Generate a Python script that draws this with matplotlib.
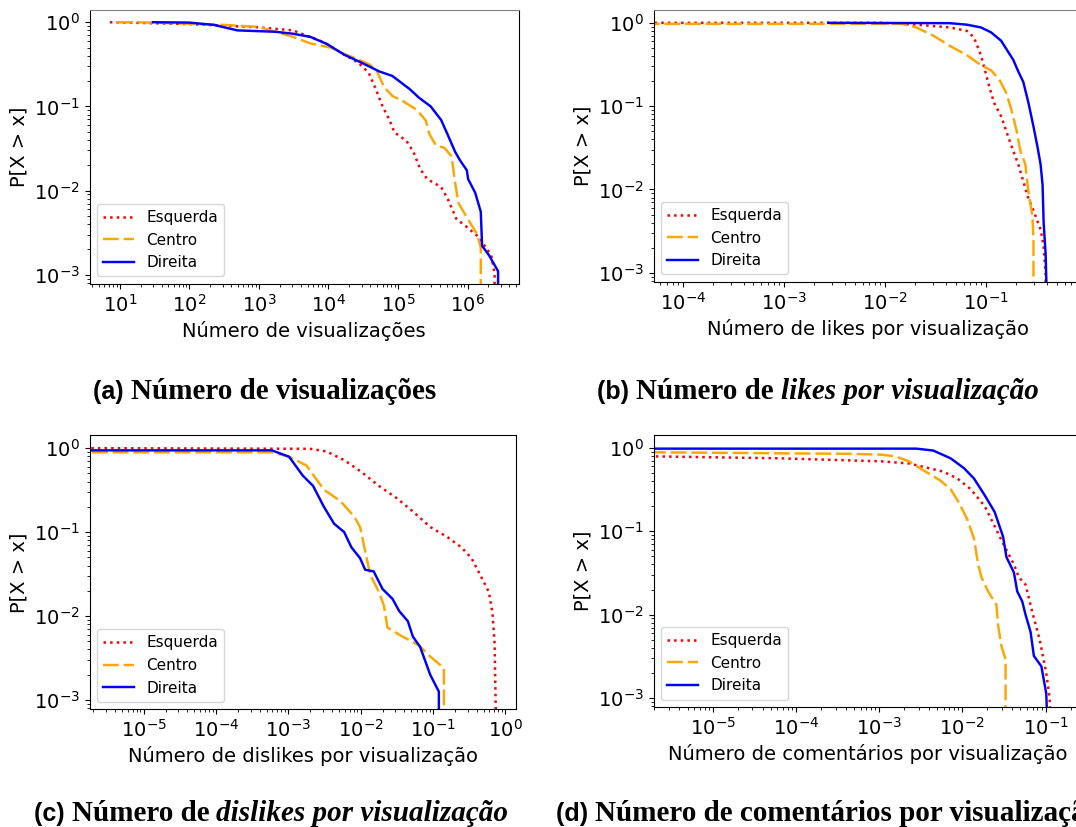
import matplotlib
matplotlib.use('Agg')
import matplotlib.pyplot as plt

# CCDF curves (x values, P[X > x])
series = ['Esquerda', 'Centro', 'Direita']

# (a) number of views
views_esq_x = [7.2, 100, 980, 3100, 8500, 17000, 27000, 38000, 48000, 60000, 76000, 89000,
               132000, 166000, 209000, 263000, 417000, 525000, 692000, 933000, 1450000,
               2190000, 2450000, 2450000]
views_esq_y = [1.0, 0.95, 0.87, 0.80, 0.58, 0.41, 0.33, 0.25, 0.16, 0.10, 0.068, 0.049,
               0.039, 0.029, 0.018, 0.0137, 0.011, 0.0078, 0.0046, 0.0038, 0.0028,
               0.0017, 0.00102, 0.0005]
views_cen_x = [9.1, 32, 316, 980, 3100, 5500, 10700, 17000, 27000, 40000, 50000, 63000,
               83000, 117000, 186000, 251000, 282000, 347000, 468000, 589000, 661000,
               741000, 977000, 1380000, 1550000, 1550000]
views_cen_y = [1.0, 0.99, 0.93, 0.88, 0.67, 0.56, 0.50, 0.42, 0.36, 0.31, 0.26, 0.17,
               0.133, 0.116, 0.091, 0.068, 0.047, 0.035, 0.032, 0.0255, 0.0125,
               0.0071, 0.0048, 0.0030, 0.0021, 0.0005]
views_dir_x = [30, 100, 224, 490, 1740, 3100, 5500, 9550, 17000, 30000, 54000, 83000,
               148000, 200000, 295000, 417000, 525000, 661000, 776000, 977000, 1020000,
               1290000, 1550000, 1620000, 2040000, 2750000, 2750000]
views_dir_y = [1.0, 0.99, 0.93, 0.80, 0.77, 0.73, 0.67, 0.55, 0.41, 0.33, 0.26, 0.23,
               0.16, 0.127, 0.10, 0.069, 0.045, 0.029, 0.023, 0.0174, 0.0137,
               0.0094, 0.0056, 0.0022, 0.0017, 0.0011, 0.0005]

# (b) likes per view
likes_esq_x = [1e-5, 0.0093, 0.0204, 0.0437, 0.0646, 0.0759, 0.0891, 0.0955, 0.107, 0.120,
               0.141, 0.166, 0.186, 0.209, 0.234, 0.263, 0.295, 0.347, 0.372, 0.389, 0.389]
likes_esq_y = [1.0, 1.0, 0.95, 0.88, 0.80, 0.67, 0.41, 0.30, 0.177, 0.11,
               0.076, 0.043, 0.029, 0.020, 0.0125, 0.0078, 0.0056, 0.0033, 0.0021, 0.00097, 0.0005]
likes_cen_x = [1e-5, 0.0148, 0.0204, 0.0302, 0.0437, 0.0646, 0.0891, 0.112, 0.135, 0.158,
               0.178, 0.20, 0.219, 0.245, 0.263, 0.288, 0.295, 0.295]
likes_cen_y = [0.97, 0.97, 0.88, 0.70, 0.53, 0.41, 0.31, 0.27, 0.21, 0.146,
               0.091, 0.052, 0.029, 0.020, 0.0094, 0.0048, 0.0025, 0.0005]
likes_dir_x = [0.00275, 0.0437, 0.0646, 0.0891, 0.112, 0.141, 0.186, 0.209, 0.234, 0.263,
               0.295, 0.324, 0.347, 0.363, 0.372, 0.389, 0.40]
likes_dir_y = [1.0, 0.99, 0.95, 0.88, 0.77, 0.61, 0.36, 0.26, 0.195, 0.11,
               0.057, 0.032, 0.020, 0.0114, 0.0040, 0.0017, 0.0005]

# (c) dislikes per view
dislikes_esq_x = [1e-6, 0.002, 0.00339, 0.00589, 0.0102, 0.0178, 0.0309, 0.0525, 0.0912,
                  0.158, 0.245, 0.339, 0.447, 0.589, 0.661, 0.708, 0.741]
dislikes_esq_y = [1.0, 0.98, 0.91, 0.72, 0.52, 0.355, 0.256, 0.176, 0.115,
                  0.087, 0.066, 0.049, 0.031, 0.0194, 0.011, 0.0047, 0.0005]
dislikes_cen_x = [1e-6, 0.000589, 0.00102, 0.00178, 0.00309, 0.00525, 0.00813, 0.00977,
                  0.0115, 0.0135, 0.0178, 0.0209, 0.0234, 0.0339, 0.0631, 0.0912, 0.141, 0.141]
dislikes_cen_y = [0.89, 0.89, 0.79, 0.62, 0.32, 0.233, 0.153, 0.115,
                  0.0595, 0.031, 0.0194, 0.0133, 0.0073, 0.006, 0.0045, 0.0033, 0.0024, 0.0005]
dislikes_dir_x = [1e-6, 0.000589, 0.00102, 0.00158, 0.00219, 0.00309, 0.00427, 0.00589,
                  0.00741, 0.00977, 0.0115, 0.0151, 0.02, 0.0275, 0.0339, 0.0447, 0.0525,
                  0.0661, 0.0912, 0.120, 0.120]
dislikes_dir_y = [0.94, 0.94, 0.79, 0.47, 0.355, 0.20, 0.126, 0.10,
                  0.066, 0.049, 0.0356, 0.034, 0.021, 0.016, 0.0115, 0.0087, 0.0057,
                  0.0043, 0.0020, 0.00126, 0.0005]

# (d) comments per view
comments_esq_x = [1e-6, 6.3e-5, 0.00107, 0.00229, 0.00282, 0.00589, 0.00871, 0.0126, 0.0186,
                  0.0257, 0.0324, 0.0417, 0.0479, 0.0575, 0.0692, 0.0851, 0.102, 0.112, 0.1135]
comments_esq_y = [0.80, 0.75, 0.69, 0.65, 0.62, 0.52, 0.43, 0.32, 0.20,
                  0.104, 0.065, 0.040, 0.028, 0.023, 0.0108, 0.005, 0.002, 0.001, 0.0005]
comments_cen_x = [1e-6, 0.000417, 0.00107, 0.00158, 0.00229, 0.00339, 0.00537, 0.00724,
                  0.00912, 0.0115, 0.0138, 0.0155, 0.0170, 0.0204, 0.0257, 0.0269, 0.0295,
                  0.0331, 0.0331]
comments_cen_y = [0.89, 0.85, 0.83, 0.79, 0.69, 0.54, 0.41, 0.32,
                  0.22, 0.138, 0.082, 0.040, 0.028, 0.019, 0.0131, 0.0075, 0.0042,
                  0.0029, 0.0005]
comments_dir_x = [1e-6, 0.00282, 0.00447, 0.00724, 0.0105, 0.0138, 0.0186, 0.0245, 0.0309,
                  0.0339, 0.0417, 0.0457, 0.0525, 0.0575, 0.0661, 0.0724, 0.0891, 0.102, 0.105]
comments_dir_y = [0.98, 0.98, 0.93, 0.75, 0.57, 0.43, 0.27, 0.17, 0.086,
                  0.049, 0.032, 0.019, 0.0144, 0.010, 0.0062, 0.0032, 0.0024, 0.00113, 0.0005]

W, H = 1076, 827
fig = plt.figure(figsize=(W / 100, H / 100), dpi=100)

styles = [dict(color='red', linestyle=':', lw=1.8),
          dict(color='orange', linestyle=(0, (6.5, 2.0)), lw=1.75),
          dict(color='blue', linestyle='-', lw=1.75)]


def add_axes(left, top, width, height):
    "axes placed in pixel units, measured from the top-left corner"
    return fig.add_axes([left / W, (H - top - height) / H, width / W, height / H])


def ccdf_panel(ax, curves, xlim, xlabel, gray_top=False):
    for (x, y), name, st in zip(curves, series, styles):
        ax.plot(x, y, label=name, **st)
    ax.set_xscale('log')
    ax.set_yscale('log')
    ax.set_xlim(*xlim)
    ax.set_ylim(10 ** -3.11, 10 ** 0.15)
    ax.set_xlabel(xlabel, fontsize=14)
    ax.set_ylabel('P[X > x]', fontsize=14)
    ax.tick_params(labelsize=14)
    ax.legend(loc='lower left', fontsize=11)
    if gray_top:
        ax.spines['top'].set_color('#808080')


ax_a = add_axes(89.5, 9.6, 429.5, 274.4)
ccdf_panel(ax_a, [(views_esq_x, views_esq_y), (views_cen_x, views_cen_y), (views_dir_x, views_dir_y)],
           (10 ** 0.564, 10 ** 6.74), 'Número de visualizações', gray_top=True)

ax_b = add_axes(653.5, 10.3, 429.5, 271.7)
ccdf_panel(ax_b, [(likes_esq_x, likes_esq_y), (likes_cen_x, likes_cen_y), (likes_dir_x, likes_dir_y)],
           (10 ** -4.29, 10 ** -0.04), 'Número de likes por visualização', gray_top=True)

ax_c = add_axes(89.5, 435.5, 426.3, 273.8)
ccdf_panel(ax_c, [(dislikes_esq_x, dislikes_esq_y), (dislikes_cen_x, dislikes_cen_y),
                  (dislikes_dir_x, dislikes_dir_y)],
           (10 ** -5.75, 10 ** 0.143), 'Número de dislikes por visualização')

ax_d = add_axes(653.5, 435.4, 429.5, 271.8)
ccdf_panel(ax_d, [(comments_esq_x, comments_esq_y), (comments_cen_x, comments_cen_y),
                  (comments_dir_x, comments_dir_y)],
           (10 ** -5.71, 10 ** -0.55), 'Número de comentários por visualização')

# subfigure captions: bold sans label, bold serif text, bold italic words
renderer = fig.canvas.get_renderer()
SANS, SERIF = 'Liberation Sans', 'Liberation Serif'


def caption(x_px, base_px, parts):
    x = x_px / W
    for txt, family, style in parts:
        size = 18 if family == SANS else 21
        t = fig.text(x, (H - base_px) / H, txt, family=family, fontweight='bold',
                     fontstyle=style, fontsize=size, va='baseline', ha='left')
        x += t.get_window_extent(renderer).width / W


caption(93, 399, [('(a) ', SANS, 'normal'), ('Número de visualizações', SERIF, 'normal')])
caption(597, 399, [('(b) ', SANS, 'normal'), ('Número de ', SERIF, 'normal'),
                   ('likes por visualização', SERIF, 'italic')])
caption(34, 821, [('(c) ', SANS, 'normal'), ('Número de ', SERIF, 'normal'),
                  ('dislikes por visualização', SERIF, 'italic')])
caption(556, 821, [('(d) ', SANS, 'normal'),
                   ('Número de comentários por visualização', SERIF, 'normal')])

fig.savefig('out.png', dpi=100)
